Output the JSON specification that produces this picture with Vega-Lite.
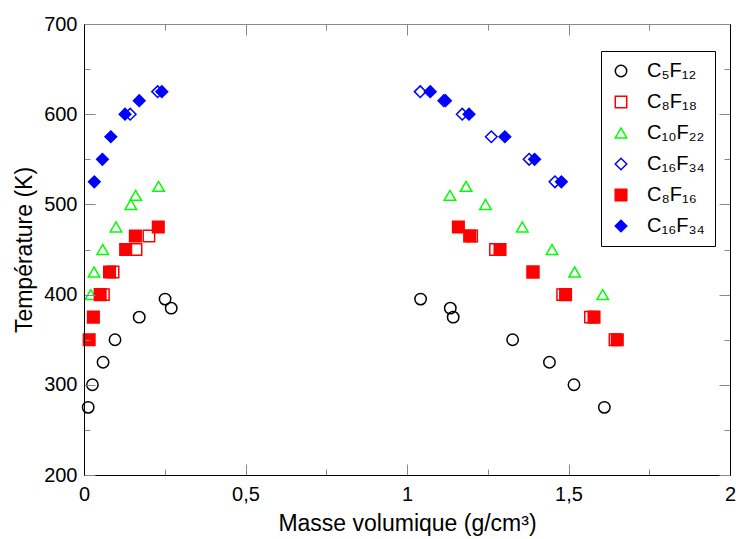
{
  "$schema": "https://vega.github.io/schema/vega-lite/v6.json",
  "width": 646,
  "height": 451,
  "autosize": {"type": "none"},
  "padding": {"left": 84, "top": 24, "right": 6, "bottom": 64},
  "config": {
    "view": {"stroke": null},
    "font": "Liberation Sans"
  },
  "data": {
    "values": [
      {"series": "C5F12", "x": 0.013, "y": 275},
      {"series": "C5F12", "x": 0.026, "y": 300},
      {"series": "C5F12", "x": 0.059, "y": 325},
      {"series": "C5F12", "x": 0.096, "y": 350},
      {"series": "C5F12", "x": 0.171, "y": 375},
      {"series": "C5F12", "x": 0.251, "y": 395},
      {"series": "C5F12", "x": 0.270, "y": 385},
      {"series": "C5F12", "x": 1.042, "y": 395},
      {"series": "C5F12", "x": 1.134, "y": 385},
      {"series": "C5F12", "x": 1.143, "y": 375},
      {"series": "C5F12", "x": 1.327, "y": 350},
      {"series": "C5F12", "x": 1.441, "y": 325},
      {"series": "C5F12", "x": 1.517, "y": 300},
      {"series": "C5F12", "x": 1.611, "y": 275},
      {"series": "C8F18", "x": 0.060, "y": 400},
      {"series": "C8F18", "x": 0.090, "y": 425},
      {"series": "C8F18", "x": 0.161, "y": 450},
      {"series": "C8F18", "x": 0.201, "y": 465},
      {"series": "C8F18", "x": 1.200, "y": 465},
      {"series": "C8F18", "x": 1.274, "y": 450},
      {"series": "C8F18", "x": 1.390, "y": 425},
      {"series": "C8F18", "x": 1.482, "y": 400},
      {"series": "C8F18", "x": 1.568, "y": 375},
      {"series": "C8F18", "x": 1.644, "y": 350},
      {"series": "C10F22", "x": 0.021, "y": 400},
      {"series": "C10F22", "x": 0.031, "y": 425},
      {"series": "C10F22", "x": 0.058, "y": 450},
      {"series": "C10F22", "x": 0.099, "y": 475},
      {"series": "C10F22", "x": 0.145, "y": 500},
      {"series": "C10F22", "x": 0.160, "y": 510},
      {"series": "C10F22", "x": 0.231, "y": 520},
      {"series": "C10F22", "x": 1.133, "y": 510},
      {"series": "C10F22", "x": 1.183, "y": 520},
      {"series": "C10F22", "x": 1.243, "y": 500},
      {"series": "C10F22", "x": 1.357, "y": 475},
      {"series": "C10F22", "x": 1.449, "y": 450},
      {"series": "C10F22", "x": 1.519, "y": 425},
      {"series": "C10F22", "x": 1.606, "y": 400},
      {"series": "C16F34o", "x": 0.143, "y": 600},
      {"series": "C16F34o", "x": 0.228, "y": 625},
      {"series": "C16F34o", "x": 1.041, "y": 625},
      {"series": "C16F34o", "x": 1.114, "y": 615},
      {"series": "C16F34o", "x": 1.171, "y": 600},
      {"series": "C16F34o", "x": 1.261, "y": 575},
      {"series": "C16F34o", "x": 1.378, "y": 550},
      {"series": "C16F34o", "x": 1.458, "y": 525},
      {"series": "C8F16", "x": 0.016, "y": 350},
      {"series": "C8F16", "x": 0.029, "y": 375},
      {"series": "C8F16", "x": 0.050, "y": 400},
      {"series": "C8F16", "x": 0.079, "y": 425},
      {"series": "C8F16", "x": 0.129, "y": 450},
      {"series": "C8F16", "x": 0.159, "y": 465},
      {"series": "C8F16", "x": 0.230, "y": 475},
      {"series": "C8F16", "x": 1.159, "y": 475},
      {"series": "C8F16", "x": 1.194, "y": 465},
      {"series": "C8F16", "x": 1.288, "y": 450},
      {"series": "C8F16", "x": 1.390, "y": 425},
      {"series": "C8F16", "x": 1.491, "y": 400},
      {"series": "C8F16", "x": 1.579, "y": 375},
      {"series": "C8F16", "x": 1.651, "y": 350},
      {"series": "C16F34f", "x": 0.032, "y": 525},
      {"series": "C16F34f", "x": 0.057, "y": 550},
      {"series": "C16F34f", "x": 0.083, "y": 575},
      {"series": "C16F34f", "x": 0.127, "y": 600},
      {"series": "C16F34f", "x": 0.171, "y": 615},
      {"series": "C16F34f", "x": 0.241, "y": 625},
      {"series": "C16F34f", "x": 1.072, "y": 625},
      {"series": "C16F34f", "x": 1.119, "y": 615},
      {"series": "C16F34f", "x": 1.192, "y": 600},
      {"series": "C16F34f", "x": 1.303, "y": 575},
      {"series": "C16F34f", "x": 1.395, "y": 550},
      {"series": "C16F34f", "x": 1.478, "y": 525}
    ]
  },
  "resolve": {"axis": {"x": "independent", "y": "independent"}},
  "layer": [
    {
      "mark": {"type": "point", "opacity": 1, "strokeWidth": 1.5},
      "encoding": {
        "x": {
          "field": "x", "type": "quantitative",
          "scale": {"domain": [0, 2], "nice": false, "zero": false},
          "axis": {
            "orient": "bottom",
            "grid": false,
            "zindex": 1,
            "domainColor": "black",
            "values": [0, 0.25, 0.5, 0.75, 1, 1.25, 1.5, 1.75, 2],
            "format": ".2~f",
            "tickSize": {"condition": {"test": "datum.value % 0.5 !== 0", "value": -6}, "value": -11},
            "labelExpr": "datum.value % 0.5 === 0 ? replace(datum.label, '.', ',') : ''",
            "labelPadding": 20,
            "labelFlush": false,
            "labelOverlap": false,
            "labelFont": "Liberation Sans",
            "labelFontSize": 20,
            "labelColor": "black",
            "title": "Masse volumique (g/cm³)",
            "titleFont": "Liberation Sans",
            "titleFontSize": 23,
            "titleFontWeight": "normal",
            "titleColor": "black",
            "titlePadding": 3
          }
        },
        "y": {
          "field": "y", "type": "quantitative",
          "scale": {"domain": [200, 700], "nice": false, "zero": false},
          "axis": {
            "orient": "left",
            "grid": false,
            "zindex": 1,
            "domainColor": "black",
            "values": [200, 250, 300, 350, 400, 450, 500, 550, 600, 650, 700],
            "format": "d",
            "tickSize": {"condition": {"test": "datum.value % 100 !== 0", "value": -6}, "value": -11},
            "labelExpr": "datum.value % 100 === 0 ? datum.label : ''",
            "labelPadding": 18,
            "labelFont": "Liberation Sans",
            "labelFontSize": 20,
            "labelColor": "black",
            "title": "Température (K)",
            "titleFont": "Liberation Sans",
            "titleFontSize": 23,
            "titleFontWeight": "normal",
            "titleColor": "black",
            "titlePadding": 7
          }
        },
        "shape": {
          "field": "series", "type": "nominal",
          "scale": {"domain": ["C5F12", "C8F18", "C10F22", "C16F34o", "C8F16", "C16F34f"], "range": ["circle", "square", "triangle-up", "diamond", "square", "diamond"]},
          "legend": {
            "title": null,
            "orient": "none",
            "legendX": 517,
            "legendY": 27,
            "strokeColor": "black",
            "fillColor": "white",
            "padding": 10,
            "rowPadding": 11,
            "labelFontSize": 20,
            "labelFont": "Liberation Sans",
            "labelColor": "black",
            "labelOffset": 16,
            "symbolStrokeWidth": 1.5,
            "labelExpr": "datum.label == 'C5F12' ? 'C₅F₁₂' : datum.label == 'C8F18' ? 'C₈F₁₈' : datum.label == 'C10F22' ? 'C₁₀F₂₂' : datum.label == 'C8F16' ? 'C₈F₁₆' : 'C₁₆F₃₄'"
          }
        },
        "stroke": {
          "field": "series", "type": "nominal",
          "scale": {"domain": ["C5F12", "C8F18", "C10F22", "C16F34o", "C8F16", "C16F34f"], "range": ["black", "#ff0000", "#00ff00", "#0000ff", "#ff0000", "#0000ff"]}
        },
        "fill": {
          "field": "series", "type": "nominal",
          "scale": {"domain": ["C5F12", "C8F18", "C10F22", "C16F34o", "C8F16", "C16F34f"], "range": ["transparent", "transparent", "transparent", "transparent", "#ff0000", "#0000ff"]}
        },
        "size": {
          "field": "series", "type": "nominal",
          "scale": {"domain": ["C5F12", "C8F18", "C10F22", "C16F34o", "C8F16", "C16F34f"], "range": [130, 135, 180, 190, 160, 200]}
        }
      }
    },
    {
      "mark": {"type": "point", "opacity": 0},
      "encoding": {
        "x": {
          "field": "x", "type": "quantitative",
          "axis": {
            "orient": "top",
            "grid": false,
            "zindex": 1,
            "values": [0, 0.25, 0.5, 0.75, 1, 1.25, 1.5, 1.75, 2],
            "tickSize": {"condition": {"test": "datum.value % 0.5 !== 0", "value": -6}, "value": -11},
            "labels": false,
            "title": null
          }
        },
        "y": {
          "field": "y", "type": "quantitative",
          "axis": {
            "orient": "right",
            "grid": false,
            "zindex": 1,
            "domainColor": "black",
            "values": [200, 250, 300, 350, 400, 450, 500, 550, 600, 650, 700],
            "tickSize": {"condition": {"test": "datum.value % 100 !== 0", "value": -6}, "value": -11},
            "labels": false,
            "title": null
          }
        }
      }
    }
  ]
}
